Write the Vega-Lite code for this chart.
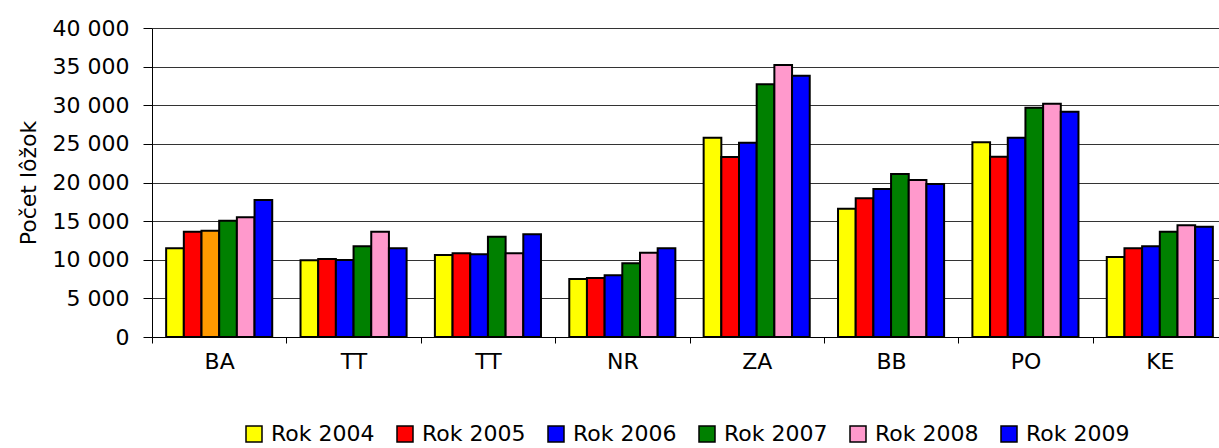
{
  "$schema": "https://vega.github.io/schema/vega-lite/v6.json",
  "autosize": "none",
  "padding": {"left": 152, "top": 28, "right": 0, "bottom": 111},
  "width": 1067,
  "height": 309,
  "background": "white",
  "config": {
    "view": {"stroke": null},
    "font": "DejaVu Sans",
    "axis": {"labelFont": "DejaVu Sans", "titleFont": "DejaVu Sans", "labelColor": "black", "titleColor": "black"}
  },
  "data": {"values": [
    {"kod": "1 BA", "rok": "Rok 2004", "pocet": 11480},
    {"kod": "1 BA", "rok": "Rok 2005", "pocet": 13630},
    {"kod": "1 BA", "rok": "Rok 2006", "pocet": 13760},
    {"kod": "1 BA", "rok": "Rok 2007", "pocet": 15060},
    {"kod": "1 BA", "rok": "Rok 2008", "pocet": 15490},
    {"kod": "1 BA", "rok": "Rok 2009", "pocet": 17730},
    {"kod": "2 TT", "rok": "Rok 2004", "pocet": 9920},
    {"kod": "2 TT", "rok": "Rok 2005", "pocet": 10100},
    {"kod": "2 TT", "rok": "Rok 2006", "pocet": 9970},
    {"kod": "2 TT", "rok": "Rok 2007", "pocet": 11740},
    {"kod": "2 TT", "rok": "Rok 2008", "pocet": 13630},
    {"kod": "2 TT", "rok": "Rok 2009", "pocet": 11480},
    {"kod": "3 TT", "rok": "Rok 2004", "pocet": 10610},
    {"kod": "3 TT", "rok": "Rok 2005", "pocet": 10830},
    {"kod": "3 TT", "rok": "Rok 2006", "pocet": 10700},
    {"kod": "3 TT", "rok": "Rok 2007", "pocet": 12990},
    {"kod": "3 TT", "rok": "Rok 2008", "pocet": 10830},
    {"kod": "3 TT", "rok": "Rok 2009", "pocet": 13290},
    {"kod": "4 NR", "rok": "Rok 2004", "pocet": 7510},
    {"kod": "4 NR", "rok": "Rok 2005", "pocet": 7640},
    {"kod": "4 NR", "rok": "Rok 2006", "pocet": 7980},
    {"kod": "4 NR", "rok": "Rok 2007", "pocet": 9540},
    {"kod": "4 NR", "rok": "Rok 2008", "pocet": 10910},
    {"kod": "4 NR", "rok": "Rok 2009", "pocet": 11480},
    {"kod": "5 ZA", "rok": "Rok 2004", "pocet": 25800},
    {"kod": "5 ZA", "rok": "Rok 2005", "pocet": 23300},
    {"kod": "5 ZA", "rok": "Rok 2006", "pocet": 25150},
    {"kod": "5 ZA", "rok": "Rok 2007", "pocet": 32710},
    {"kod": "5 ZA", "rok": "Rok 2008", "pocet": 35210},
    {"kod": "5 ZA", "rok": "Rok 2009", "pocet": 33830},
    {"kod": "6 BB", "rok": "Rok 2004", "pocet": 16610},
    {"kod": "6 BB", "rok": "Rok 2005", "pocet": 17950},
    {"kod": "6 BB", "rok": "Rok 2006", "pocet": 19160},
    {"kod": "6 BB", "rok": "Rok 2007", "pocet": 21100},
    {"kod": "6 BB", "rok": "Rok 2008", "pocet": 20320},
    {"kod": "6 BB", "rok": "Rok 2009", "pocet": 19810},
    {"kod": "7 PO", "rok": "Rok 2004", "pocet": 25200},
    {"kod": "7 PO", "rok": "Rok 2005", "pocet": 23340},
    {"kod": "7 PO", "rok": "Rok 2006", "pocet": 25800},
    {"kod": "7 PO", "rok": "Rok 2007", "pocet": 29680},
    {"kod": "7 PO", "rok": "Rok 2008", "pocet": 30200},
    {"kod": "7 PO", "rok": "Rok 2009", "pocet": 29170},
    {"kod": "8 KE", "rok": "Rok 2004", "pocet": 10360},
    {"kod": "8 KE", "rok": "Rok 2005", "pocet": 11480},
    {"kod": "8 KE", "rok": "Rok 2006", "pocet": 11740},
    {"kod": "8 KE", "rok": "Rok 2007", "pocet": 13630},
    {"kod": "8 KE", "rok": "Rok 2008", "pocet": 14450},
    {"kod": "8 KE", "rok": "Rok 2009", "pocet": 14280}
  ]},
  "mark": {"type": "bar", "stroke": "black", "strokeWidth": 2},
  "encoding": {
    "x": {
      "field": "kod", "type": "nominal",
      "scale": {"range": [0, 1075], "paddingInner": 0, "paddingOuter": 0},
      "axis": {
        "title": null, "labelAngle": 0,
        "labelExpr": "datum.value ? substring(datum.value, 2) : ''",
        "labelFontSize": 22, "labelPadding": 8,
        "tickBand": "extent", "tickSize": 6, "tickColor": "black",
        "domainColor": "black", "domainWidth": 1, "grid": false
      }
    },
    "xOffset": {
      "field": "rok", "type": "nominal",
      "scale": {"paddingInner": 0, "paddingOuter": 0.8}
    },
    "y": {
      "field": "pocet", "type": "quantitative",
      "scale": {"domain": [0, 40000], "nice": false},
      "axis": {
        "title": "Počet lôžok", "titleFontSize": 22, "titleFontWeight": "normal", "titlePadding": 12,
        "values": [0, 5000, 10000, 15000, 20000, 25000, 30000, 35000, 40000],
        "labelExpr": "replace(format(datum.value, ','), ',', ' ')",
        "labelFontSize": 22, "labelPadding": 14,
        "tickSize": 9, "tickColor": "black",
        "domainColor": "black", "domainWidth": 1,
        "grid": true, "gridColor": "#333333", "gridWidth": 1
      }
    },
    "color": {
      "condition": {"test": "datum.kod == '1 BA' && datum.rok == 'Rok 2006'", "value": "#FF9900"},
      "field": "rok", "type": "nominal",
      "scale": {
        "domain": ["Rok 2004", "Rok 2005", "Rok 2006", "Rok 2007", "Rok 2008", "Rok 2009"],
        "range": ["#FFFF00", "#FF0000", "#0000FF", "#008000", "#FF99CC", "#0000FF"]
      },
      "legend": {
        "title": null, "orient": "none", "direction": "horizontal",
        "legendX": 91, "legendY": 395, "padding": 0,
        "symbolType": "square", "symbolSize": 256,
        "symbolStrokeColor": "black", "symbolStrokeWidth": 1.5,
        "labelFont": "DejaVu Sans", "labelFontSize": 22, "labelColor": "black",
        "labelOffset": 6, "columnPadding": 19
      }
    }
  }
}
